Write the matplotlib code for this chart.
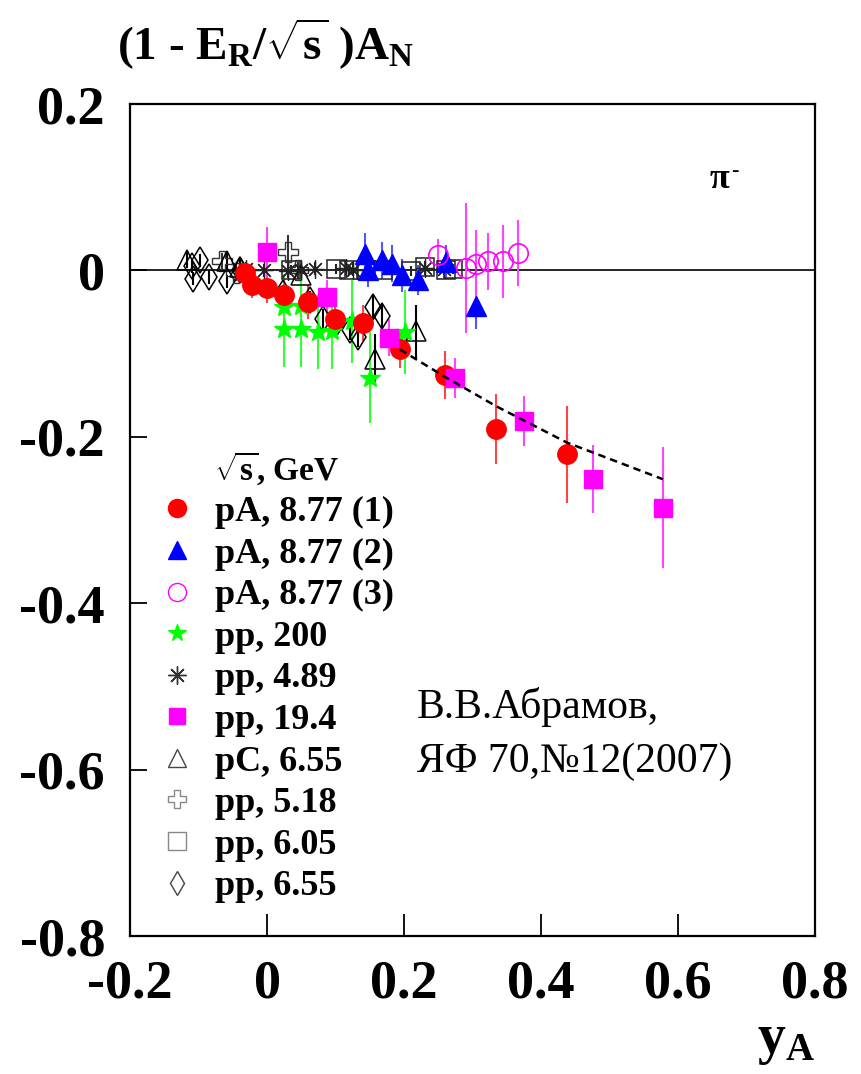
import numpy as np
import matplotlib.pyplot as plt
from matplotlib.lines import Line2D

plt.rcParams['font.family'] = ['Liberation Serif', 'DejaVu Serif']
plt.rcParams['mathtext.fontset'] = 'custom'
plt.rcParams['mathtext.rm'] = 'Liberation Serif:bold'
plt.rcParams['mathtext.it'] = 'Liberation Serif:bold'
plt.rcParams['mathtext.bf'] = 'Liberation Serif:bold'

# pA, 8.77 (1) - red filled circles
pa1_x = [-0.032, -0.022, 0.000, 0.025, 0.060, 0.099, 0.140, 0.194, 0.260, 0.334, 0.438]
pa1_y = [-0.003, -0.018, -0.021, -0.030, -0.038, -0.058, -0.063, -0.095, -0.126, -0.191, -0.221]
pa1_e = [0.012, 0.015, 0.018, 0.018, 0.020, 0.020, 0.022, 0.022, 0.029, 0.042, 0.058]

# pA, 8.77 (2) - blue triangles
pa2_x = [0.143, 0.147, 0.168, 0.183, 0.197, 0.220, 0.262, 0.305]
pa2_y = [0.020, 0.000, 0.012, 0.008, -0.006, -0.012, 0.010, -0.043]
pa2_e = [0.025, 0.020, 0.022, 0.022, 0.020, 0.018, 0.020, 0.027]

# pA, 8.77 (3) - magenta open circles
pa3_x = [0.250, 0.290, 0.305, 0.322, 0.345, 0.367]
pa3_y = [0.018, 0.003, 0.008, 0.011, 0.011, 0.021]
pa3_e = [0.020, 0.078, 0.040, 0.034, 0.044, 0.040]

# pp, 200 - green stars
pp200_x = [0.025, 0.050, 0.025, 0.050, 0.074, 0.095, 0.124, 0.150, 0.201]
pp200_y = [-0.044, -0.043, -0.071, -0.071, -0.074, -0.073, -0.061, -0.129, -0.074]
pp200_e = [0.040, 0.040, 0.045, 0.045, 0.045, 0.045, 0.050, 0.055, 0.050]

# pp, 4.89 - asterisks
pp489_x = [-0.030, -0.005, 0.030, 0.050, 0.070, 0.115, 0.125, 0.230, 0.258]
pp489_y = [0.002, 0.000, -0.001, 0.000, 0.002, 0.003, 0.001, 0.003, 0.002]
pp489_e = [0.008, 0.008, 0.008, 0.008, 0.008, 0.008, 0.008, 0.008, 0.008]

# pp, 19.4 - magenta squares
pp194_x = [0.000, 0.088, 0.178, 0.274, 0.375, 0.476, 0.578]
pp194_y = [0.022, -0.032, -0.081, -0.129, -0.181, -0.251, -0.285]
pp194_e = [0.030, 0.020, 0.022, 0.024, 0.030, 0.041, 0.073]

# pC, 6.55 - open triangles
pc655_x = [-0.117, -0.058, -0.040, 0.050, 0.158, 0.218]
pc655_y = [0.013, 0.011, 0.004, -0.005, -0.107, -0.073]
pc655_e = [0.010, 0.010, 0.010, 0.010, 0.030, 0.032]

# pp, 5.18 - open crosses
pp518_x = [-0.065, -0.045, 0.030, 0.045]
pp518_y = [0.011, -0.003, 0.022, 0.000]
pp518_e = [0.010, 0.010, 0.020, 0.010]

# pp, 6.05 - open squares
pp605_x = [0.035, 0.100, 0.120, 0.145, 0.170, 0.210, 0.230, 0.262, 0.272]
pp605_y = [0.000, 0.002, 0.001, 0.000, 0.000, -0.001, 0.004, 0.000, 0.002]
pp605_e = [0.006, 0.006, 0.006, 0.006, 0.006, 0.006, 0.006, 0.006, 0.006]

# pp, 6.55 - open diamonds
pp655_x = [-0.110, -0.098, -0.108, -0.085, -0.058, -0.040, 0.023, 0.063, 0.082, 0.100, 0.121, 0.133, 0.155, 0.168]
pp655_y = [0.005, 0.012, -0.010, -0.008, -0.013, 0.000, -0.027, -0.035, -0.058, -0.065, -0.072, -0.080, -0.044, -0.055]
pp655_e = [0.008, 0.008, 0.008, 0.008, 0.008, 0.008, 0.010, 0.010, 0.012, 0.012, 0.012, 0.012, 0.015, 0.015]

# dashed fit curve
fit_x = [0.194, 0.260, 0.334, 0.438, 0.578]
fit_y = [-0.095, -0.128, -0.163, -0.207, -0.251]

fig = plt.figure(figsize=(8.61, 10.74), dpi=100)
ax = fig.add_axes([130/861, 1-936/1074, 685/861, 832/1074])

ax.axhline(0, color='black', lw=1.2, zorder=1)

series = [
    (pp655_x, pp655_y, pp655_e, dict(marker='d', ms=13, mfc='none', mec='black', mew=1.1), 'black'),
    (pp605_x, pp605_y, pp605_e, dict(marker='s', ms=13, mfc='none', mec='#222222', mew=1.1), '#222222'),
    (pp518_x, pp518_y, pp518_e, dict(marker='P', ms=14, mfc='none', mec='#333333', mew=1.0), '#333333'),
    (pc655_x, pc655_y, pc655_e, dict(marker='^', ms=15, mfc='none', mec='black', mew=1.1), 'black'),
    (pp489_x, pp489_y, pp489_e, dict(marker=(8, 2, 0), ms=13, mec='#222222', mew=0.9), '#222222'),
    (pp200_x, pp200_y, pp200_e, dict(marker='*', ms=15, mfc='#00ff00', mec='#00ff00'), '#33ff33'),
    (pa1_x, pa1_y, pa1_e, dict(marker='o', ms=14, mfc='#ff0000', mec='#ff0000'), '#ff4444'),
    (pa2_x, pa2_y, pa2_e, dict(marker='^', ms=14, mfc='#0000ff', mec='#0000ff'), '#5555ff'),
    (pa3_x, pa3_y, pa3_e, dict(marker='o', ms=14, mfc='none', mec='#ff00ff', mew=1.2), '#ff44ff'),
    (pp194_x, pp194_y, pp194_e, dict(marker='s', ms=13, mfc='#ff00ff', mec='#ff00ff'), '#ff44ff'),
]
for x, y, e, st, ecol in series:
    ax.errorbar(x, y, yerr=e, fmt='none', ecolor=ecol, elinewidth=1.5, capsize=0, zorder=2)
    ax.plot(x, y, ls='none', zorder=3, **st)

ax.plot(fit_x, fit_y, color='black', ls=(0, (3, 2)), lw=1.8, zorder=4)

ax.set_xlim(-0.2, 0.8)
ax.set_ylim(-0.8, 0.2)
ax.set_xticks([-0.2, 0, 0.2, 0.4, 0.6, 0.8])
ax.set_xticklabels(['-0.2', '0', '0.2', '0.4', '0.6', '0.8'])
ax.set_yticks([-0.8, -0.6, -0.4, -0.2, 0, 0.2])
ax.set_yticklabels(['-0.8', '-0.6', '-0.4', '-0.2', '0', '0.2'])
ax.tick_params(axis='x', direction='in', length=16, width=1.3, pad=17, labelsize=39)
ax.tick_params(axis='y', direction='in', length=12, width=1.3, pad=18, labelsize=39)
for lab in ax.get_xticklabels() + ax.get_yticklabels():
    lab.set_fontweight('bold')
for sp in ax.spines.values():
    sp.set_linewidth(1.6)

fig.text(117/861, 1-60/1074, r'(1 - E$_\mathrm{R}$/$\sqrt{\mathrm{s}}$ )A$_\mathrm{N}$',
         fontsize=34, fontweight='bold', ha='left', va='baseline')
fig.text(815/861, 1-1053/1074, r'y$_\mathrm{A}$', fontsize=40, fontweight='bold',
         ha='right', va='baseline')
fig.text(710/861, 1-188/1074, 'π', fontsize=26, fontweight='bold', ha='left', va='baseline')
fig.text(731/861, 1-176/1074, '-', fontsize=16, fontweight='bold', ha='left', va='baseline')

fig.text(417/861, 1-718/1074, 'В.В.Абрамов,', fontsize=30, ha='left', va='baseline')
fig.text(417/861, 1-772/1074, 'ЯФ 70,№12(2007)', fontsize=30, ha='left', va='baseline')

handles = [
    Line2D([], [], ls='none', marker='o', ms=13, mfc='#ff0000', mec='#ff0000'),
    Line2D([], [], ls='none', marker='^', ms=13, mfc='#0000ff', mec='#0000ff'),
    Line2D([], [], ls='none', marker='o', ms=13, mfc='none', mec='#ff00ff', mew=1.0),
    Line2D([], [], ls='none', marker='*', ms=13, mfc='#00ff00', mec='#00ff00'),
    Line2D([], [], ls='none', marker=(8, 2, 0), ms=13, mec='#333333', mew=1.0),
    Line2D([], [], ls='none', marker='s', ms=12, mfc='#ff00ff', mec='#ff00ff'),
    Line2D([], [], ls='none', marker='^', ms=13, mfc='none', mec='#444444', mew=1.0),
    Line2D([], [], ls='none', marker='P', ms=13, mfc='none', mec='#888888', mew=1.0),
    Line2D([], [], ls='none', marker='s', ms=13, mfc='none', mec='#888888', mew=1.0),
    Line2D([], [], ls='none', marker='d', ms=12, mfc='none', mec='#444444', mew=1.0),
]
labels = ['pA, 8.77 (1)', 'pA, 8.77 (2)', 'pA, 8.77 (3)', 'pp, 200', 'pp, 4.89',
          'pp, 19.4', 'pC, 6.55', 'pp, 5.18', 'pp, 6.05', 'pp, 6.55']
leg = ax.legend(handles, labels, loc='upper left', bbox_to_anchor=(159/861, 1-450/1074),
                bbox_transform=fig.transFigure, frameon=False,
                prop={'family': 'Liberation Serif', 'weight': 'bold', 'size': 26},
                title=r'$\sqrt{\mathrm{s}}$, GeV',
                title_fontproperties={'family': 'Liberation Serif', 'weight': 'bold', 'size': 24},
                handlelength=1.0, handletextpad=0.55, labelspacing=0.23,
                borderpad=0, borderaxespad=0)

fig.savefig('out.png', dpi=100)
